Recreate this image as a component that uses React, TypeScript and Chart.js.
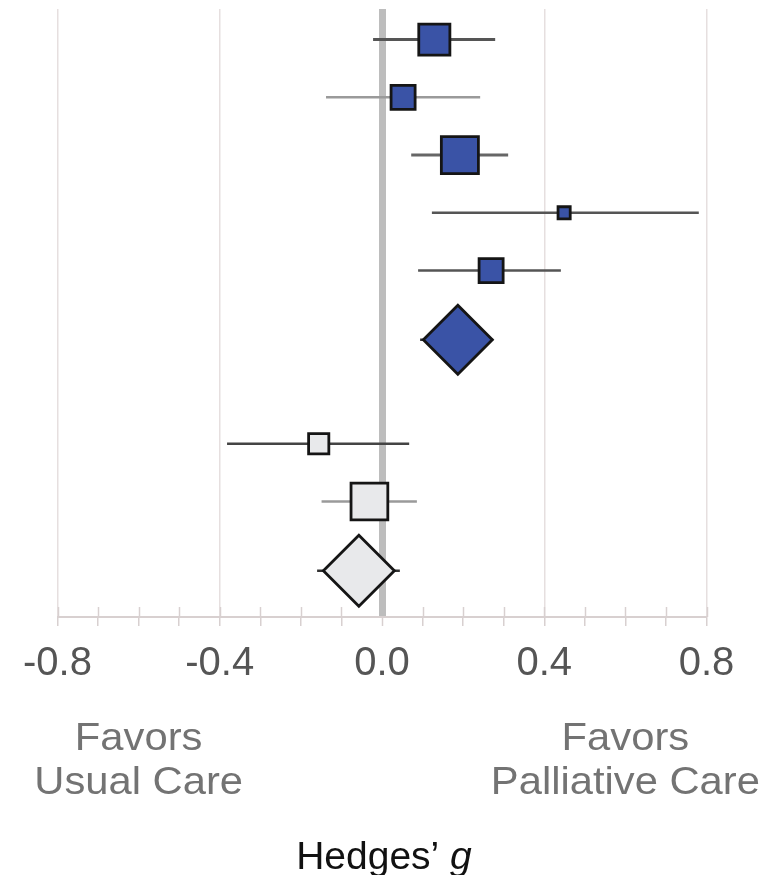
import React, { useEffect, useRef } from "react";
import { Chart, registerables } from "chart.js";

Chart.register(...registerables);

// ---- data ----
const rowPositions = [1, 2, 3, 4, 5, 6.2, 8, 9, 10.2];
const effects = [0.129, 0.052, 0.192, 0.449, 0.269, 0.187, -0.156, -0.031, -0.057];
const ciLow = [-0.022, -0.138, 0.072, 0.123, 0.089, 0.094, -0.382, -0.149, -0.16];
const ciHigh = [0.279, 0.242, 0.311, 0.781, 0.441, 0.274, 0.067, 0.086, 0.044];
const isPooled = [false, false, false, false, false, true, false, false, true];
const groups = ["pc", "pc", "pc", "pc", "pc", "pc", "uc", "uc", "uc"];

const majorTicks = [-0.8, -0.4, 0, 0.4, 0.8];
const tickLabels = ["-0.8", "-0.4", "0.0", "0.4", "0.8"];
const favorPositions = [-0.6, 0.6];
const favorLabels = [
  ["Favors", "Usual Care"],
  ["Favors", "Palliative Care"],
];
const axisTitle = "Hedges\u2019 ";
const axisTitleItalic = "g";

// ---- styles ----
const markerRadius = [22, 17, 26.2, 8.6, 17, 34.5, 14.3, 26, 35.5];
const ciColors = ["#555", "#9a9a9a", "#666", "#555", "#555", "#333", "#444", "#9a9a9a", "#333"];
const ciWidths = [3, 2.5, 3, 2.5, 2.5, 2.5, 2.5, 2.5, 2.5];
const groupFill: Record<string, string> = { pc: "#3a53a6", uc: "#e8e9eb" };
const FONT = '"Liberation Sans", Arial, sans-serif';
const AXIS_COLOR = "#d8d0d0";

const isMajor = (v: number) => majorTicks.findIndex((m) => Math.abs(m - v) < 1e-6);

const upperTicksPlugin = {
  id: "upperTicks",
  beforeDatasetsDraw(chart: any) {
    const { ctx, chartArea, scales } = chart;
    const xs = scales.x;
    ctx.save();
    ctx.strokeStyle = AXIS_COLOR;
    ctx.lineWidth = 1.5;
    xs.ticks.forEach((t: any) => {
      if (Math.abs(t.value) < 1e-6) return;
      const px = Math.round(xs.getPixelForValue(t.value)) + 0.5;
      ctx.beginPath();
      ctx.moveTo(px, chartArea.bottom - 10);
      ctx.lineTo(px, chartArea.bottom);
      ctx.stroke();
    });
    ctx.restore();
  },
};

const textPlugin = {
  id: "extraText",
  afterDraw(chart: any) {
    const { ctx, scales } = chart;
    const xs = scales.x;
    ctx.save();
    ctx.fillStyle = "#737373";
    ctx.textAlign = "center";
    ctx.textBaseline = "alphabetic";
    ctx.font = `39px ${FONT}`;
    favorPositions.forEach((v, i) => {
      const cx = xs.getPixelForValue(v);
      favorLabels[i].forEach((line, j) => {
        ctx.save();
        ctx.translate(cx, 750 + j * 44);
        ctx.scale(1.07, 1);
        ctx.fillText(line, 0, 0);
        ctx.restore();
      });
    });
    ctx.fillStyle = "#111";
    ctx.textAlign = "left";
    const normalFont = `39px ${FONT}`;
    const italicFont = `italic 39px ${FONT}`;
    ctx.font = normalFont;
    const w1 = ctx.measureText(axisTitle).width;
    ctx.font = italicFont;
    const w2 = ctx.measureText(axisTitleItalic).width;
    const cx = xs.getPixelForValue(0) + 2;
    const startX = cx - (w1 + w2) / 2;
    ctx.font = normalFont;
    ctx.fillText(axisTitle, startX, 869);
    ctx.font = italicFont;
    ctx.fillText(axisTitleItalic, startX + w1, 869);
    ctx.restore();
  },
};

export default function App() {
  const ref = useRef<HTMLCanvasElement | null>(null);

  useEffect(() => {
    document.body.style.margin = "0";
    const canvas = ref.current;
    if (!canvas) return;

    const ciDatasets = rowPositions.map((y, i) => ({
      type: "scatter" as const,
      data: [
        { x: ciLow[i], y },
        { x: ciHigh[i], y },
      ],
      showLine: true,
      borderColor: ciColors[i],
      borderWidth: ciWidths[i],
      pointRadius: 0,
      order: 2,
    }));

    const markerDataset = {
      type: "scatter" as const,
      data: rowPositions.map((y, i) => ({ x: effects[i], y })),
      pointStyle: isPooled.map((p) => (p ? "rectRot" : "rect")),
      pointRadius: markerRadius,
      pointHoverRadius: markerRadius,
      backgroundColor: groups.map((g) => groupFill[g]),
      borderColor: "#151515",
      borderWidth: 2.8,
      order: 0,
    };

    const chart = new Chart(canvas, {
      type: "scatter",
      data: { datasets: [markerDataset, ...ciDatasets] as any },
      plugins: [upperTicksPlugin, textPlugin],
      options: {
        animation: false,
        responsive: true,
        maintainAspectRatio: false,
        layout: { autoPadding: false, padding: { top: 9, left: 57.5, right: 62.5, bottom: 0 } },
        plugins: { legend: { display: false }, tooltip: { enabled: false } },
        events: [],
        scales: {
          x: {
            type: "linear",
            min: -0.8,
            max: 0.8,
            afterFit: (scale: any) => {
              scale.height = 258;
            },
            ticks: {
              stepSize: 0.1,
              autoSkip: false,
              maxRotation: 0,
              padding: 14,
              color: "#555555",
              font: { family: FONT, size: 40 },
              callback: (value: any) => {
                const k = isMajor(Number(value));
                return k >= 0 ? tickLabels[k] : "";
              },
            },
            grid: {
              drawOnChartArea: true,
              drawTicks: true,
              tickLength: 9,
              tickWidth: 1.5,
              tickColor: AXIS_COLOR,
              color: (c: any) => {
                const v = c.tick ? c.tick.value : NaN;
                if (Math.abs(v) < 1e-6) return "#bdbdbd";
                if (isMajor(v) >= 0) return "#e6dfdf";
                return "rgba(0,0,0,0)";
              },
              lineWidth: (c: any) => {
                const v = c.tick ? c.tick.value : NaN;
                return Math.abs(v) < 1e-6 ? 7 : 1.5;
              },
            },
            border: { display: true, color: AXIS_COLOR, width: 2 },
          },
          y: {
            type: "linear",
            display: false,
            min: 0.47,
            max: 11,
            reverse: true,
          },
        },
      },
    });
    return () => chart.destroy();
  }, []);

  return (
    <div style={{ position: "relative", width: 769, height: 875 }}>
      <canvas ref={ref} />
    </div>
  );
}
